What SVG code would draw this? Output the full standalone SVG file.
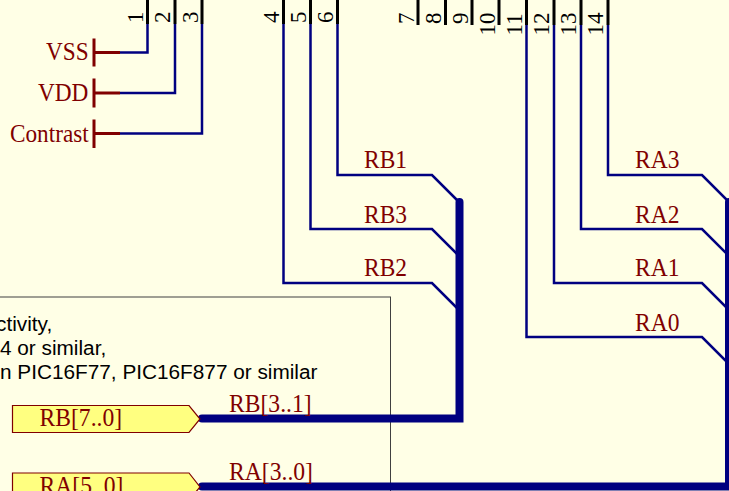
<svg xmlns="http://www.w3.org/2000/svg" width="729" height="491" viewBox="0 0 729 491">
<style>
.w{fill:none;stroke:#000080;stroke-width:2.500}
.b{fill:none;stroke:#000080;stroke-width:8;stroke-linecap:round}
.p{fill:none;stroke:#000;stroke-width:3}
.pr{fill:none;stroke:#800000;stroke-width:3}
.t{font-family:"Liberation Serif",serif;font-size:25px;fill:#800000}
.n{font-family:"Liberation Serif",serif;font-size:23px;fill:#000}
.c{font-family:"Liberation Sans",sans-serif;font-size:21px;fill:#000}
.port{fill:#ffff80;stroke:#800000;stroke-width:1.200}
</style>
<rect width="729" height="491" fill="#ffffe6"/>
<g id="note">
<rect x="-10" y="297" width="400.500" height="210" fill="none" stroke="#404040" stroke-width="1"/>
<text class="c" transform="translate(-4 331) scale(.99 1)">ctivity,</text>
<text class="c" transform="translate(0 355) scale(.99 1)">4 or similar,</text>
<text class="c" transform="translate(0 379) scale(.99 1)">n PIC16F77, PIC16F877 or similar</text>
</g>
<g id="connectors">
<path class="w" d="M147.500 24V52.500H120"/>
<path class="w" d="M175 24V93H120"/>
<path class="w" d="M202 24V133.500H120"/>
<path class="w" d="M283.500 24V283H432L459 310"/>
<path class="w" d="M310.500 24V229H432L459 256"/>
<path class="w" d="M337.500 24V175H432L459 202"/>
<path class="w" d="M526.500 25V337H702L729 364"/>
<path class="w" d="M554 25V283H702L729 310"/>
<path class="w" d="M581 25V229H702L729 256"/>
<path class="w" d="M608 25V175H702L729 202"/>
<path class="b" d="M459.500 202V418.500H202"/>
<path class="b" d="M729 202V486.500H202"/>
</g>
<g id="pins">
<path class="p" d="M147.500 0V24M175 0V24M202 0V24M283.500 0V24M310.500 0V24M337.500 0V24M418 0V25M445.500 0V25M472 0V25M499 0V25M526.500 0V25M554 0V25M581 0V25M608 0V25"/>
<g class="n">
<text transform="translate(143 23) rotate(-90)">1</text>
<text transform="translate(170 23) rotate(-90)">2</text>
<text transform="translate(197.500 23) rotate(-90)">3</text>
<text transform="translate(279 23) rotate(-90)">4</text>
<text transform="translate(306 23) rotate(-90)">5</text>
<text transform="translate(333 23) rotate(-90)">6</text>
<text transform="translate(414 24) rotate(-90)">7</text>
<text transform="translate(441 24) rotate(-90)">8</text>
<text transform="translate(468 24) rotate(-90)">9</text>
<text transform="translate(495 35.500) rotate(-90)">10</text>
<text transform="translate(522 35.500) rotate(-90)">11</text>
<text transform="translate(549 35.500) rotate(-90)">12</text>
<text transform="translate(576 35.500) rotate(-90)">13</text>
<text transform="translate(603 35.500) rotate(-90)">14</text>
</g>
</g>
<g id="VSS"><path class="pr" d="M94 38.500V66.500M94 52.500H120"/><text class="t" transform="translate(46 60) scale(.93 1)">VSS</text></g>
<g id="VDD"><path class="pr" d="M94 78.500V107.500M94 93H120"/><text class="t" transform="translate(38 101) scale(.93 1)">VDD</text></g>
<g id="Contrast"><path class="pr" d="M94 119.500V148M94 133.500H120"/><text class="t" transform="translate(10 142) scale(.93 1)">Contrast</text></g>
<g id="net-labels">
<text class="t" transform="translate(364 168) scale(.94 1)">RB1</text>
<text class="t" transform="translate(364 223) scale(.94 1)">RB3</text>
<text class="t" transform="translate(364 276) scale(.94 1)">RB2</text>
<text class="t" transform="translate(635 168) scale(.94 1)">RA3</text>
<text class="t" transform="translate(635 223) scale(.94 1)">RA2</text>
<text class="t" transform="translate(635 276) scale(.94 1)">RA1</text>
<text class="t" transform="translate(635 331) scale(.94 1)">RA0</text>
<text class="t" transform="translate(229 412) scale(.945 1)">RB[3..1]</text>
<text class="t" transform="translate(229 480) scale(.945 1)">RA[3..0]</text>
</g>
<g id="port-RB"><path class="port" d="M12.500 405.500H189L200 419L189 432.500H12.500Z"/><text class="t" transform="translate(39.500 426) scale(.945 1)">RB[7..0]</text></g>
<g id="port-RA"><path class="port" d="M12.500 473H189L200 487L189 500H12.500Z"/><text class="t" transform="translate(39.500 494) scale(.945 1)">RA[5..0]</text></g>
</svg>
